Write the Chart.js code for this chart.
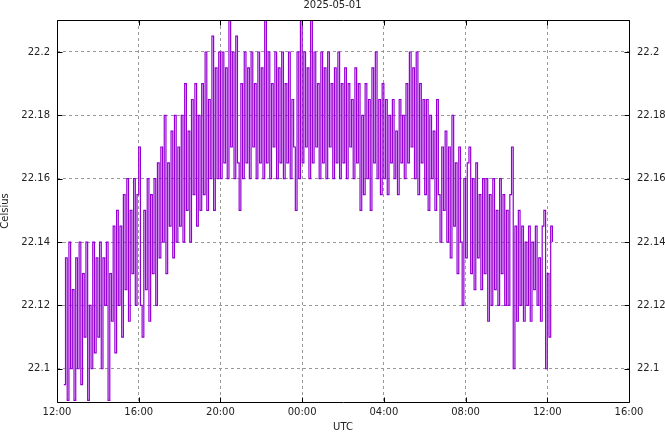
<!DOCTYPE html>
<html lang="en">
<head>
    <meta charset="UTF-8" />
    <title>2025-05-01</title>
    <script src="https://cdn.jsdelivr.net/npm/chart.js"></script>
    <style>
        body { margin: 0; background: #fff; }
    </style>
</head>
<body>
    <canvas id="myChart" width="665" height="432"></canvas>

    <script>
        // readings every 5 minutes, first one at 12:20, minutes counted from 12:00
        const startMinute = 20;
        const stepMinutes = 5;

        const celsius = [
            // 12:20 - 12:55
            22.095, 22.135, 22.09, 22.14, 22.1, 22.125, 22.09, 22.135,
            // 13:00
            22.1, 22.14, 22.095, 22.13, 22.11, 22.14, 22.09, 22.12, 22.1, 22.14, 22.105, 22.135,
            // 14:00
            22.11, 22.14, 22.1, 22.135, 22.12, 22.14, 22.09, 22.13, 22.115, 22.145, 22.105, 22.15,
            // 15:00
            22.12, 22.145, 22.11, 22.155, 22.125, 22.16, 22.115, 22.15, 22.13, 22.16, 22.12, 22.155,
            // 16:00
            22.17, 22.12, 22.11, 22.15, 22.125, 22.16, 22.115, 22.155, 22.13, 22.16, 22.12, 22.165,
            // 17:00
            22.135, 22.17, 22.14, 22.18, 22.13, 22.165, 22.145, 22.175, 22.135, 22.18, 22.14, 22.17,
            // 18:00
            22.145, 22.18, 22.14, 22.19, 22.15, 22.175, 22.14, 22.185, 22.155, 22.19, 22.145, 22.18,
            // 19:00
            22.15, 22.19, 22.155, 22.2, 22.15, 22.185, 22.16, 22.205, 22.15, 22.195, 22.16, 22.2,
            // 20:00
            22.16, 22.2, 22.165, 22.195, 22.16, 22.21, 22.17, 22.2, 22.16, 22.205, 22.165, 22.15,
            // 21:00
            22.19, 22.16, 22.2, 22.165, 22.195, 22.16, 22.2, 22.17, 22.19, 22.16, 22.2, 22.165,
            // 22:00
            22.195, 22.16, 22.21, 22.165, 22.2, 22.16, 22.19, 22.17, 22.2, 22.16, 22.195, 22.165,
            // 23:00
            22.2, 22.16, 22.19, 22.165, 22.2, 22.16, 22.185, 22.17, 22.15, 22.2, 22.16, 22.21,
            // 00:00
            22.165, 22.2, 22.17, 22.195, 22.16, 22.21, 22.165, 22.2, 22.17, 22.19, 22.16, 22.2,
            // 01:00
            22.165, 22.195, 22.16, 22.2, 22.17, 22.19, 22.16, 22.195, 22.165, 22.2, 22.16, 22.19,
            // 02:00
            22.165, 22.195, 22.16, 22.19, 22.17, 22.185, 22.16, 22.195, 22.165, 22.19, 22.15, 22.18,
            // 03:00
            22.155, 22.19, 22.16, 22.185, 22.15, 22.195, 22.165, 22.2, 22.16, 22.185, 22.155, 22.19,
            // 04:00
            22.16, 22.185, 22.155, 22.18, 22.165, 22.185, 22.16, 22.175, 22.155, 22.185, 22.165, 22.18,
            // 05:00
            22.16, 22.19, 22.165, 22.2, 22.17, 22.195, 22.16, 22.2, 22.155, 22.19, 22.165, 22.185,
            // 06:00
            22.155, 22.185, 22.15, 22.18, 22.16, 22.175, 22.15, 22.185, 22.155, 22.14, 22.17, 22.15,
            // 07:00
            22.175, 22.14, 22.17, 22.135, 22.18, 22.145, 22.165, 22.13, 22.17, 22.14, 22.12, 22.16,
            // 08:00
            22.135, 22.165, 22.17, 22.13, 22.16, 22.125, 22.165, 22.135, 22.155, 22.125, 22.16, 22.13,
            // 09:00
            22.16, 22.115, 22.155, 22.12, 22.16, 22.125, 22.15, 22.12, 22.16, 22.13, 22.155, 22.12,
            // 10:00
            22.15, 22.12, 22.155, 22.17, 22.1, 22.145, 22.115, 22.15, 22.12, 22.145, 22.115, 22.14,
            // 11:00
            22.12, 22.145, 22.115, 22.14, 22.125, 22.145, 22.12, 22.135, 22.115, 22.145, 22.15, 22.1,
            // 12:00 - 12:15
            22.13, 22.11, 22.145, 22.14
        ];

        const yTicks = [22.1, 22.12, 22.14, 22.16, 22.18, 22.2];
        const xTicks = [0, 240, 480, 720, 960, 1200, 1440, 1680];  // 12:00 ... 16:00 next day
        const yMin = 22.0895, yMax = 22.2101;

        const points = celsius.map((v, i) => ({ x: startMinute + i * stepMinutes, y: v }));

        function hhmm(m) {
            const t = (12 * 60 + m) % 1440;
            const h = Math.floor(t / 60), mm = t % 60;
            return String(h).padStart(2, '0') + ':' + String(mm).padStart(2, '0');
        }

        Chart.defaults.font.family = 'DejaVu Sans';
        Chart.defaults.font.size = 10;
        Chart.defaults.color = '#222';

        // gnuplot style frame with inward tick marks
        const frame = {
            id: 'frame',
            afterDatasetsDraw(chart) {
                const { ctx, chartArea: a, scales } = chart;
                const L = Math.round(a.left) + 0.5, R = Math.round(a.right) + 0.5;
                const T = Math.round(a.top) + 0.5, B = Math.round(a.bottom) + 0.5;
                ctx.save();
                ctx.strokeStyle = '#000';
                ctx.lineWidth = 1;
                ctx.beginPath();
                xTicks.forEach(v => {
                    const px = Math.round(scales.x.getPixelForValue(v)) + 0.5;
                    ctx.moveTo(px, B); ctx.lineTo(px, B - 5);
                    ctx.moveTo(px, T); ctx.lineTo(px, T + 5);
                });
                yTicks.forEach(v => {
                    const py = Math.round(scales.y.getPixelForValue(v)) + 0.5;
                    ctx.moveTo(L, py); ctx.lineTo(L + 5, py);
                    ctx.moveTo(R, py); ctx.lineTo(R - 5, py);
                });
                ctx.rect(L, T, R - L, B - T);
                ctx.stroke();
                ctx.restore();
            }
        };

        const grid = { color: '#999', drawTicks: false };
        const border = { display: false, dash: [3, 3] };

        new Chart(document.getElementById('myChart'), {
            type: 'line',
            data: {
                datasets: [{
                    data: points,
                    borderColor: '#9400d3',
                    borderWidth: 1.2,
                    pointRadius: 0,
                    stepped: true,
                    fill: false
                }]
            },
            options: {
                responsive: false,
                animation: false,
                events: [],
                layout: { padding: 0 },
                plugins: {
                    legend: { display: false },
                    tooltip: { enabled: false },
                    title: {
                        display: true,
                        text: '2025-05-01',
                        color: '#222',
                        font: { size: 10, weight: 'normal', lineHeight: 1 },
                        padding: { top: 0, bottom: 10 }
                    }
                },
                scales: {
                    x: {
                        type: 'linear',
                        min: 0, max: 1680,
                        grid, border,
                        ticks: { padding: 4, maxRotation: 0, callback: v => hhmm(v) },
                        afterBuildTicks: s => { s.ticks = xTicks.map(v => ({ value: v })); },
                        afterFit: s => { s.height = 30; },
                        title: { display: true, text: 'UTC', padding: 0, font: { lineHeight: 1 } }
                    },
                    y: {
                        position: 'left',
                        min: yMin, max: yMax,
                        grid, border,
                        ticks: { padding: 7, callback: v => String(+v.toFixed(3)) },
                        afterBuildTicks: s => { s.ticks = yTicks.map(v => ({ value: v })); },
                        afterFit: s => { s.width = 57; },
                        title: { display: true, text: 'Celsius', padding: 0, font: { lineHeight: 1 } }
                    },
                    y2: {
                        position: 'right',
                        min: yMin, max: yMax,
                        grid: { display: false, drawTicks: false },
                        border: { display: false },
                        ticks: { padding: 8, callback: v => String(+v.toFixed(3)) },
                        afterBuildTicks: s => { s.ticks = yTicks.map(v => ({ value: v })); },
                        afterFit: s => { s.width = 36; }
                    }
                }
            },
            plugins: [frame]
        });
    </script>
</body>
</html>
